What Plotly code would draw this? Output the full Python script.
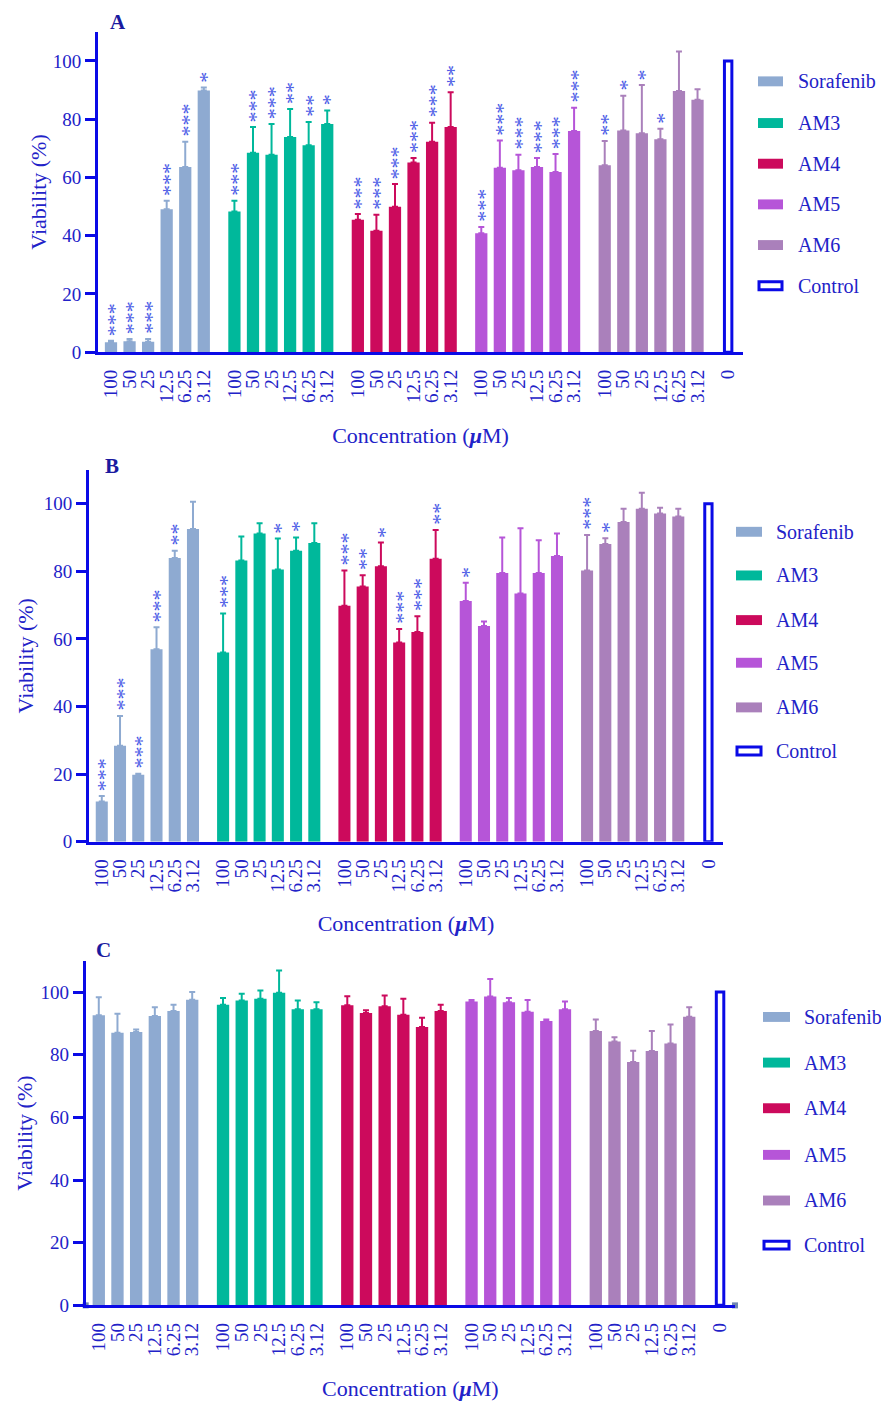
import plotly.graph_objects as go

# ---------------- data ----------------
conc_labels = ["100", "50", "25", "12.5", "6.25", "3.12"]
control_label = "0"
compounds = ["Sorafenib", "AM3", "AM4", "AM5", "AM6"]
colors = ["#8eaad1", "#00b89b", "#cc0a5c", "#b655d8", "#aa80bb"]
control_value = 100

# Panel A
A_sorafenib = [3.4, 3.8, 3.6, 49.1, 63.6, 89.8]
A_am3 = [48.3, 68.5, 67.8, 73.9, 71.0, 78.3]
A_am4 = [45.5, 41.7, 49.9, 65.1, 72.2, 77.3]
A_am5 = [40.8, 63.3, 62.5, 63.6, 61.9, 75.9]
A_am6 = [64.2, 76.1, 75.2, 73.1, 89.7, 86.7]
A_sd_sorafenib = [0.5, 0.7, 0.9, 2.9, 8.6, 1.1]
A_sd_am3 = [3.7, 8.8, 10.5, 9.6, 8.0, 4.7]
A_sd_am4 = [1.9, 5.5, 7.8, 1.6, 6.6, 11.9]
A_sd_am5 = [2.2, 9.4, 5.3, 3.1, 6.1, 8.0]
A_sd_am6 = [8.3, 11.9, 16.5, 3.6, 13.5, 3.6]
A_stars_sorafenib = [3, 3, 3, 3, 3, 1]
A_stars_am3 = [3, 3, 3, 2, 2, 1]
A_stars_am4 = [3, 3, 3, 3, 3, 2]
A_stars_am5 = [3, 3, 3, 3, 3, 3]
A_stars_am6 = [2, 1, 1, 1, 0, 0]

# Panel B
B_sorafenib = [11.9, 28.4, 19.8, 56.9, 83.9, 92.5]
B_am3 = [56.0, 83.2, 91.2, 80.5, 86.1, 88.4]
B_am4 = [69.8, 75.5, 81.5, 58.9, 62.0, 83.7]
B_am5 = [71.2, 63.8, 79.5, 73.4, 79.5, 84.5]
B_am6 = [80.2, 88.1, 94.6, 98.5, 97.1, 96.2]
B_sd_sorafenib = [1.6, 8.8, 0.3, 6.5, 2.2, 8.1]
B_sd_am3 = [11.5, 7.1, 3.0, 9.2, 3.9, 5.8]
B_sd_am4 = [10.4, 3.3, 7.0, 4.0, 4.7, 8.5]
B_sd_am5 = [5.4, 1.3, 10.5, 19.3, 9.7, 6.7]
B_sd_am6 = [10.5, 1.7, 3.9, 4.7, 1.7, 2.3]
B_stars_sorafenib = [3, 3, 3, 3, 2, 0]
B_stars_am3 = [3, 0, 0, 1, 1, 0]
B_stars_am4 = [3, 2, 1, 3, 3, 2]
B_stars_am5 = [1, 0, 0, 0, 0, 0]
B_stars_am6 = [3, 1, 0, 0, 0, 0]

# Panel C
C_sorafenib = [92.6, 87.0, 87.3, 92.4, 94.0, 97.6]
C_am3 = [96.0, 97.3, 97.9, 99.8, 94.5, 94.5]
C_am4 = [95.8, 93.3, 95.5, 92.8, 88.9, 94.0]
C_am5 = [97.0, 98.6, 96.8, 93.7, 90.8, 94.5]
C_am6 = [87.6, 84.2, 77.7, 81.2, 83.6, 92.1]
C_sd_sorafenib = [5.8, 6.1, 0.8, 2.8, 2.0, 2.4]
C_sd_am3 = [2.1, 2.2, 2.6, 7.1, 2.8, 2.3]
C_sd_am4 = [2.9, 0.9, 3.4, 5.1, 2.9, 2.0]
C_sd_am5 = [0.5, 5.6, 1.3, 3.8, 0.5, 2.5]
C_sd_am6 = [3.7, 1.4, 3.6, 6.4, 6.1, 3.1]
C_stars = [[0] * 6 for _ in range(5)]

panels_data = [
    ("A", [A_sorafenib, A_am3, A_am4, A_am5, A_am6],
     [A_sd_sorafenib, A_sd_am3, A_sd_am4, A_sd_am5, A_sd_am6],
     [A_stars_sorafenib, A_stars_am3, A_stars_am4, A_stars_am5, A_stars_am6]),
    ("B", [B_sorafenib, B_am3, B_am4, B_am5, B_am6],
     [B_sd_sorafenib, B_sd_am3, B_sd_am4, B_sd_am5, B_sd_am6],
     [B_stars_sorafenib, B_stars_am3, B_stars_am4, B_stars_am5, B_stars_am6]),
    ("C", [C_sorafenib, C_am3, C_am4, C_am5, C_am6],
     [C_sd_sorafenib, C_sd_am3, C_sd_am4, C_sd_am5, C_sd_am6],
     C_stars),
]

# ---------------- layout geometry (pixels) ----------------
W, H = 881, 1401
FONT = "Liberation Serif"
AXIS_BLUE = "#0a0ae6"
TEXT_BLUE = "#2222c8"
STAR_BLUE = "#4a5ae6"
GROUP_STRIDE = 6.65
GAP = 1.65
X_RANGE = [-0.7, 34.05]
Y_RANGE = [0, 110]

panel_geom = [
    dict(xd=(98, 743), yd=(32, 355), letter=(118, 22), ystand=0, xstand=26,
         leg=(758, 783, 797, [82, 124, 165, 206, 247, 288])),
    dict(xd=(89, 723), yd=(473.6, 848.3), letter=(112, 470), ystand=4, xstand=25,
         leg=(736, 762, 775, [536, 580, 625, 668, 713, 757])),
    dict(xd=(85.7, 735), yd=(968.4, 1315.7), letter=(103, 958), ystand=2, xstand=27,
         leg=(763, 790, 803, [1025, 1071, 1117, 1164, 1210, 1255])),
]


def px(p):
    return p / W


def py(p):
    return 1 - p / H


def xpos(g, i):
    return g * GROUP_STRIDE + i


control_x = xpos(4, 5) + GAP

fig = go.Figure()
annotations = []
shapes = []

for p, ((letter, means, sds, stars), geom) in enumerate(zip(panels_data, panel_geom)):
    suffix = "" if p == 0 else str(p + 1)
    xa, ya = "x" + suffix, "y" + suffix
    tickvals, ticktext = [], []
    for g, name in enumerate(compounds):
        xs = [xpos(g, i) for i in range(6)]
        tickvals += xs
        ticktext += conc_labels
        fig.add_trace(go.Bar(
            x=xs, y=means[g], name=name, width=0.66,
            marker=dict(color=colors[g], line=dict(width=0)),
            error_y=dict(type="data", array=sds[g], arrayminus=[0] * 6,
                         symmetric=False, color=colors[g], thickness=2, width=3),
            xaxis=xa, yaxis=ya, showlegend=False,
        ))
        # significance asterisks: one rotated "***" string per bar, as in Prism
        for i in range(6):
            n = stars[g][i]
            if n == 0:
                continue
            annotations.append(dict(
                x=xs[i], y=means[g][i] + sds[g][i], xref=xa, yref=ya,
                text="*" * n, textangle=-90, showarrow=False,
                xanchor="center", yanchor="bottom", yshift=4, xshift=3, borderpad=0,
                font=dict(family=FONT, size=22, color=STAR_BLUE),
            ))
    fig.add_trace(go.Bar(
        x=[control_x], y=[control_value], name="Control", width=0.4,
        marker=dict(color="white", line=dict(color=AXIS_BLUE, width=3)),
        xaxis=xa, yaxis=ya, showlegend=False,
    ))
    tickvals.append(control_x)
    ticktext.append(control_label)

    if letter == "C":
        fig.add_trace(go.Scatter(
            x=X_RANGE, y=[0, 0], mode="markers",
            marker=dict(symbol="square", size=6, color="#6f86b0"),
            xaxis=xa, yaxis=ya, showlegend=False, cliponaxis=False, hoverinfo="skip",
        ))

    x0, x1 = geom["xd"]
    y0, y1 = geom["yd"]
    fig.update_layout(**{
        "xaxis" + suffix: dict(
            domain=[px(x0), px(x1)], range=X_RANGE, anchor=ya,
            showline=True, linecolor=AXIS_BLUE, linewidth=3, showgrid=False,
            zeroline=False, tickvals=tickvals, ticktext=ticktext, tickangle=-90,
            ticks="", ticklabelstandoff=7,
            tickfont=dict(family=FONT, size=19, color=TEXT_BLUE),
            title=dict(text="Concentration (<b><i>μ</i></b>M)", standoff=geom["xstand"],
                       font=dict(family=FONT, size=22, color=TEXT_BLUE)),
        ),
        "yaxis" + suffix: dict(
            domain=[py(y1), py(y0)], range=Y_RANGE, anchor=xa,
            showline=True, linecolor=AXIS_BLUE, linewidth=3, showgrid=False,
            zeroline=False, tickvals=[0, 20, 40, 60, 80, 100],
            ticks="outside", ticklen=10, tickwidth=3, tickcolor=AXIS_BLUE,
            tickfont=dict(family=FONT, size=19, color=TEXT_BLUE),
            title=dict(text="Viability (%)", standoff=geom["ystand"],
                       font=dict(family=FONT, size=22, color=TEXT_BLUE)),
        ),
    })

    # panel letter
    lx, ly = geom["letter"]
    annotations.append(dict(
        x=px(lx), y=py(ly), xref="paper", yref="paper", text="<b>" + letter + "</b>",
        showarrow=False, xanchor="center", yanchor="middle",
        font=dict(family=FONT, size=21, color="#1a1aa0"),
    ))

    # legend (drawn manually to match the wide swatches)
    sx0, sx1, tx, lys = geom["leg"]
    names = compounds + ["Control"]
    for j, name in enumerate(names):
        yc = lys[j]
        if j < len(compounds):
            shapes.append(dict(type="rect", xref="paper", yref="paper",
                               x0=px(sx0), x1=px(sx1), y0=py(yc + 5), y1=py(yc - 5),
                               fillcolor=colors[j], line=dict(width=0)))
        else:
            shapes.append(dict(type="rect", xref="paper", yref="paper",
                               x0=px(sx0 + 1), x1=px(sx1 - 1), y0=py(yc + 4), y1=py(yc - 4),
                               fillcolor="white", line=dict(color=AXIS_BLUE, width=3)))
        annotations.append(dict(
            x=px(tx), y=py(yc), xref="paper", yref="paper", text=name,
            showarrow=False, xanchor="left", yanchor="middle", borderpad=0,
            font=dict(family=FONT, size=20, color=TEXT_BLUE),
        ))

fig.update_layout(
    width=W, height=H, margin=dict(l=0, r=0, t=0, b=0),
    paper_bgcolor="white", plot_bgcolor="white",
    barmode="overlay", showlegend=False, hovermode=False,
    annotations=annotations, shapes=shapes,
)

post = (
    "document.documentElement.style.margin='0';"
    "document.documentElement.style.padding='0';"
    "document.documentElement.style.overflow='hidden';"
    "document.body.style.margin='0';"
    "document.body.style.padding='0';"
    "document.body.style.overflow='hidden';"
    "document.body.style.height='1401px';"
    "var gd=document.getElementById('{plot_id}');"
    "gd.parentElement.style.height='1401px';"
    "gd.parentElement.style.overflow='hidden';"
)

fig.write_html("out.html", config={"displayModeBar": False}, post_script=post)
